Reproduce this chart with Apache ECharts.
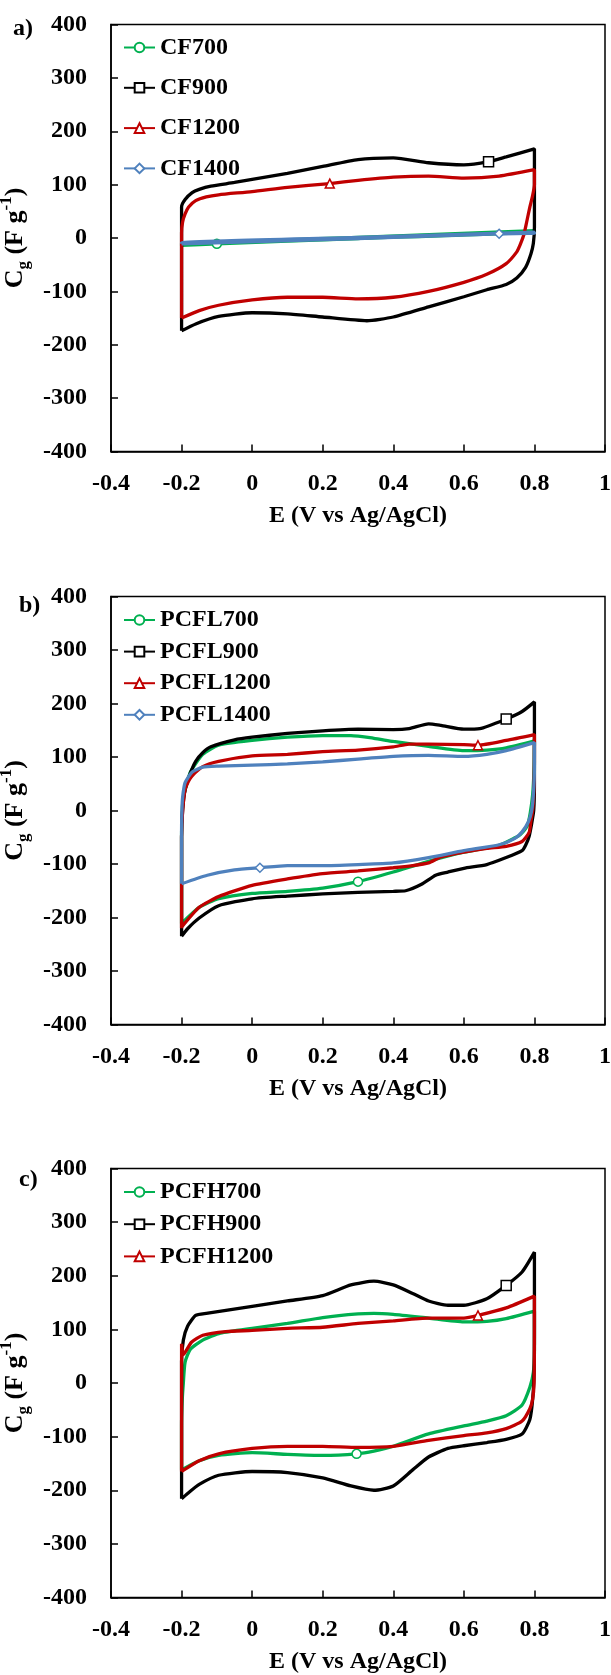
<!DOCTYPE html>
<html>
<head>
<meta charset="utf-8">
<script src="https://cdn.jsdelivr.net/npm/echarts@6/dist/echarts.min.js"></script>
<style>
  html, body { margin: 0; padding: 0; background: #fff; }
  #chart { width: 611px; height: 1675px; }
</style>
</head>
<body>
<div id="chart"></div>
<script>
// Cyclic voltammograms plotted as gravimetric capacitance vs potential.
// Each loop runs from -0.2 V up the anodic branch to 0.8 V and back along the cathodic branch.

const xTicks = [-0.4, -0.2, 0, 0.2, 0.4, 0.6, 0.8, 1];
const yTicks = [-400, -300, -200, -100, 0, 100, 200, 300, 400];

// ---- panel a) ----
const namesA = ['CF700', 'CF900', 'CF1200', 'CF1400'];
const cf700 = [[-0.2,-14],[-0.2,-12],[0.3,1],[0.8,14],[0.8,12],[0.3,-1],[-0.1,-11],[-0.2,-14]];
const cf900 = [[-0.2,-174],[-0.2,58],[-0.19,72],[-0.17,85],[-0.15,91],[-0.117,97],[-0.05,104],[0,110],[0.1,121],[0.2,134],[0.3,147],[0.4,150],[0.5,141],[0.6,137],[0.67,143],[0.72,152],[0.8,167],
  [0.8,20],[0.797,-10],[0.79,-30],[0.775,-55],[0.75,-75],[0.72,-87],[0.665,-97],[0.6,-110],[0.5,-129],[0.4,-148],[0.325,-155],[0.2,-148],[0.1,-142],[0,-140],[-0.095,-147],[-0.16,-161],[-0.2,-174]];
const cf1200 = [[-0.2,-150],[-0.2,10],[-0.197,30],[-0.19,45],[-0.18,58],[-0.16,70],[-0.13,77],[-0.095,81],[0,87],[0.1,95],[0.22,102],[0.3,108],[0.4,114],[0.5,116],[0.6,112],[0.7,116],[0.8,128],
  [0.8,100],[0.795,80],[0.787,58],[0.778,30],[0.77,6],[0.76,-12],[0.75,-26],[0.72,-48],[0.665,-68],[0.6,-83],[0.5,-100],[0.4,-111],[0.3,-114],[0.2,-111],[0.1,-111],[0,-116],[-0.095,-126],[-0.15,-136],[-0.2,-150]];
const cf1400 = [[-0.2,-11],[-0.2,-9],[0.3,1],[0.8,11],[0.8,9],[0.7,8],[0.3,-1],[-0.2,-11]];
const marksA = [[-0.1,-11],[0.67,143],[0.22,102],[0.7,8]];

// ---- panel b) ----
const namesB = ['PCFL700', 'PCFL900', 'PCFL1200', 'PCFL1400'];
const pcfl700 = [[-0.2,-211],[-0.2,-50],[-0.198,0],[-0.195,25],[-0.185,50],[-0.175,72],[-0.14,105],[-0.095,122],[0,131],[0.1,137],[0.2,140],[0.28,140],[0.345,135],[0.4,129],[0.5,120],[0.6,112],[0.665,113],[0.72,117],[0.8,130],
  [0.799,80],[0.795,30],[0.788,-5],[0.78,-28],[0.76,-45],[0.745,-51],[0.7,-65],[0.6,-78],[0.5,-95],[0.4,-115],[0.3,-133],[0.2,-145],[0.1,-151],[0,-155],[-0.095,-165],[-0.15,-181],[-0.2,-211]];
const pcfl900 = [[-0.2,-235],[-0.2,-50],[-0.197,0],[-0.19,39],[-0.175,70],[-0.16,92],[-0.14,108],[-0.117,119],[-0.05,132],[0,137],[0.1,144],[0.2,149],[0.3,152],[0.4,151],[0.445,153],[0.5,162],[0.535,159],[0.6,152],[0.645,153],[0.72,171],[0.765,185],[0.8,203],
  [0.8,50],[0.798,0],[0.792,-25],[0.785,-48],[0.775,-65],[0.765,-75],[0.72,-88],[0.665,-101],[0.6,-108],[0.555,-115],[0.52,-121],[0.48,-138],[0.435,-150],[0.4,-151],[0.3,-153],[0.2,-156],[0.1,-160],[0,-165],[-0.095,-178],[-0.15,-201],[-0.183,-221],[-0.2,-235]];
const pcfl1200 = [[-0.2,-220],[-0.2,-50],[-0.197,0],[-0.19,39],[-0.18,55],[-0.17,65],[-0.14,82],[-0.095,92],[0,102],[0.1,105],[0.2,110],[0.3,113],[0.4,119],[0.445,124],[0.5,124],[0.6,123],[0.64,122],[0.72,131],[0.8,142],
  [0.8,100],[0.798,30],[0.795,0],[0.79,-20],[0.785,-41],[0.765,-58],[0.72,-67],[0.665,-71],[0.6,-78],[0.535,-87],[0.5,-98],[0.455,-103],[0.4,-107],[0.3,-113],[0.2,-118],[0.1,-128],[0,-140],[-0.095,-161],[-0.15,-181],[-0.2,-218]];
const pcfl1400 = [[-0.2,-137],[-0.2,-40],[-0.199,0],[-0.197,25],[-0.19,52],[-0.17,72],[-0.14,81],[-0.095,83],[0,85],[0.1,87],[0.2,91],[0.3,96],[0.4,101],[0.5,103],[0.6,101],[0.665,105],[0.72,112],[0.8,127],
  [0.8,80],[0.797,30],[0.792,-1],[0.783,-21],[0.765,-40],[0.745,-52],[0.7,-64],[0.6,-75],[0.5,-88],[0.4,-98],[0.3,-101],[0.2,-103],[0.1,-103],[0.022,-107],[-0.05,-111],[-0.127,-121],[-0.2,-137]];
const marksB = [[0.3,-133],[0.72,171],[0.64,122],[0.022,-107]];

// ---- panel c) ----
const namesC = ['PCFH700', 'PCFH900', 'PCFH1200'];
const pcfh700 = [[-0.2,-162],[-0.2,-80],[-0.198,-30],[-0.195,0],[-0.19,39],[-0.175,63],[-0.14,80],[-0.09,93],[0,102],[0.1,111],[0.2,122],[0.3,129],[0.345,130],[0.4,128],[0.5,121],[0.6,114],[0.665,115],[0.72,120],[0.8,134],
  [0.8,60],[0.797,20],[0.787,-8],[0.765,-41],[0.72,-61],[0.665,-71],[0.6,-80],[0.5,-95],[0.4,-118],[0.345,-127],[0.296,-132],[0.2,-135],[0.1,-133],[0,-130],[-0.095,-135],[-0.15,-145],[-0.2,-162]];
const pcfh900 = [[-0.2,-216],[-0.2,40],[-0.195,80],[-0.183,106],[-0.16,126],[-0.13,130],[0,143],[0.1,153],[0.2,163],[0.28,183],[0.345,190],[0.4,183],[0.455,167],[0.5,153],[0.555,145],[0.6,145],[0.665,157],[0.72,182],[0.765,207],[0.8,244],
  [0.8,100],[0.799,20],[0.795,-30],[0.787,-68],[0.765,-95],[0.72,-105],[0.665,-111],[0.6,-117],[0.555,-122],[0.5,-138],[0.455,-162],[0.4,-192],[0.345,-200],[0.28,-192],[0.2,-177],[0.1,-167],[0,-165],[-0.095,-172],[-0.15,-189],[-0.183,-206],[-0.2,-216]];
const pcfh1200 = [[-0.2,-165],[-0.2,73],[-0.195,53],[-0.172,76],[-0.14,89],[-0.075,96],[0,98],[0.1,102],[0.2,104],[0.3,111],[0.4,116],[0.5,121],[0.6,121],[0.64,126],[0.72,140],[0.8,162],
  [0.8,100],[0.799,0],[0.795,-30],[0.787,-48],[0.765,-71],[0.72,-85],[0.665,-93],[0.6,-98],[0.5,-107],[0.4,-118],[0.3,-120],[0.2,-118],[0.1,-118],[0,-122],[-0.095,-132],[-0.15,-145],[-0.2,-165]];
const marksC = [[0.296,-132],[0.72,182],[0.64,126]];

const colors = ['#00B050', '#000000', '#C00000', '#4F81BD'];
const symbols = ['circle', 'rect', 'triangle', 'diamond'];
const FONT = 'Liberation Serif';

const panels = [
  { label: 'a)', names: namesA, loops: [cf700, cf900, cf1200, cf1400], marks: marksA,
    grid: { top: 24.5, height: 427 }, legendTop: 35.5, legendGap: 16.3, labelPos: [13, 17] },
  { label: 'b)', names: namesB, loops: [pcfl700, pcfl900, pcfl1200, pcfl1400], marks: marksB,
    grid: { top: 596.5, height: 428 }, legendTop: 608, legendGap: 7.6, labelPos: [19, 594] },
  { label: 'c)', names: namesC, loops: [pcfh700, pcfh900, pcfh1200], marks: marksC,
    grid: { top: 1168.5, height: 429 }, legendTop: 1180, legendGap: 8.2, labelPos: [19, 1168] }
];

const tickFmt = v => String(Math.round(v * 10) / 10);
const textBase = { fontFamily: FONT, fontWeight: 'bold', color: '#000' };

const option = {
  animation: false,
  backgroundColor: '#fff',
  grid: [], xAxis: [], yAxis: [], legend: [], series: [], graphic: []
};

panels.forEach((p, gi) => {
  option.grid.push({
    left: 111, width: 494, top: p.grid.top, height: p.grid.height,
    containLabel: false, outerBoundsMode: 'none',
    show: true, borderColor: '#000', borderWidth: 1.5, backgroundColor: 'transparent'
  });
  option.xAxis.push({
    type: 'value', gridIndex: gi, min: xTicks[0], max: xTicks[xTicks.length - 1], interval: 0.2,
    axisLine: { show: true, onZero: false, lineStyle: { color: '#000', width: 1.5 } },
    axisTick: { show: true, inside: true, length: 7, lineStyle: { color: '#000', width: 1.5 } },
    splitLine: { show: false },
    axisLabel: Object.assign({ fontSize: 24, margin: 20, formatter: tickFmt }, textBase),
    name: 'E (V vs Ag/AgCl)', nameLocation: 'middle', nameGap: 52,
    nameTextStyle: Object.assign({ fontSize: 24 }, textBase)
  });
  option.yAxis.push({
    type: 'value', gridIndex: gi, min: yTicks[0], max: yTicks[yTicks.length - 1], interval: 100,
    axisLine: { show: true, onZero: false, lineStyle: { color: '#000', width: 1.5 } },
    axisTick: { show: true, inside: true, length: 7, lineStyle: { color: '#000', width: 1.5 } },
    splitLine: { show: false },
    axisLabel: Object.assign({ fontSize: 24, margin: 24 }, textBase),
    name: '{m|C}{s|g}{m| (F g}{p|-1}{m|)}', nameLocation: 'middle', nameGap: 67, nameRotate: 90,
    nameTextStyle: {
      rich: {
        m: Object.assign({ fontSize: 26, lineHeight: 34, verticalAlign: 'middle' }, textBase),
        s: Object.assign({ fontSize: 17, lineHeight: 34, verticalAlign: 'bottom' }, textBase),
        p: Object.assign({ fontSize: 17, lineHeight: 34, verticalAlign: 'top' }, textBase)
      }
    }
  });
  option.legend.push({
    data: p.names, orient: 'vertical', left: 123, top: p.legendTop, padding: 0,
    itemWidth: 31, itemHeight: 12, itemGap: p.legendGap,
    textStyle: Object.assign({ fontSize: 24, lineHeight: 24 }, textBase)
  });
  p.loops.forEach((loop, si) => {
    const mark = p.marks[si];
    option.series.push({
      type: 'line', name: p.names[si], xAxisIndex: gi, yAxisIndex: gi,
      data: loop, smooth: 0.2,
      symbol: symbols[si],
      symbolSize: v => (v[0] === mark[0] && v[1] === mark[1]) ? (si === 1 ? 10 : 9) : 0,
      lineStyle: { color: colors[si], width: 3.3 },
      itemStyle: { color: '#fff', borderColor: colors[si], borderWidth: 1.5 },
      z: 2 + si
    });
  });
  option.graphic.push({
    type: 'text', left: p.labelPos[0], top: p.labelPos[1],
    style: { text: p.label, font: 'bold 24px "' + FONT + '"', fill: '#000' }
  });
});

const chart = echarts.init(document.getElementById('chart'), null, { renderer: 'canvas' });
chart.setOption(option);
</script>
</body>
</html>
